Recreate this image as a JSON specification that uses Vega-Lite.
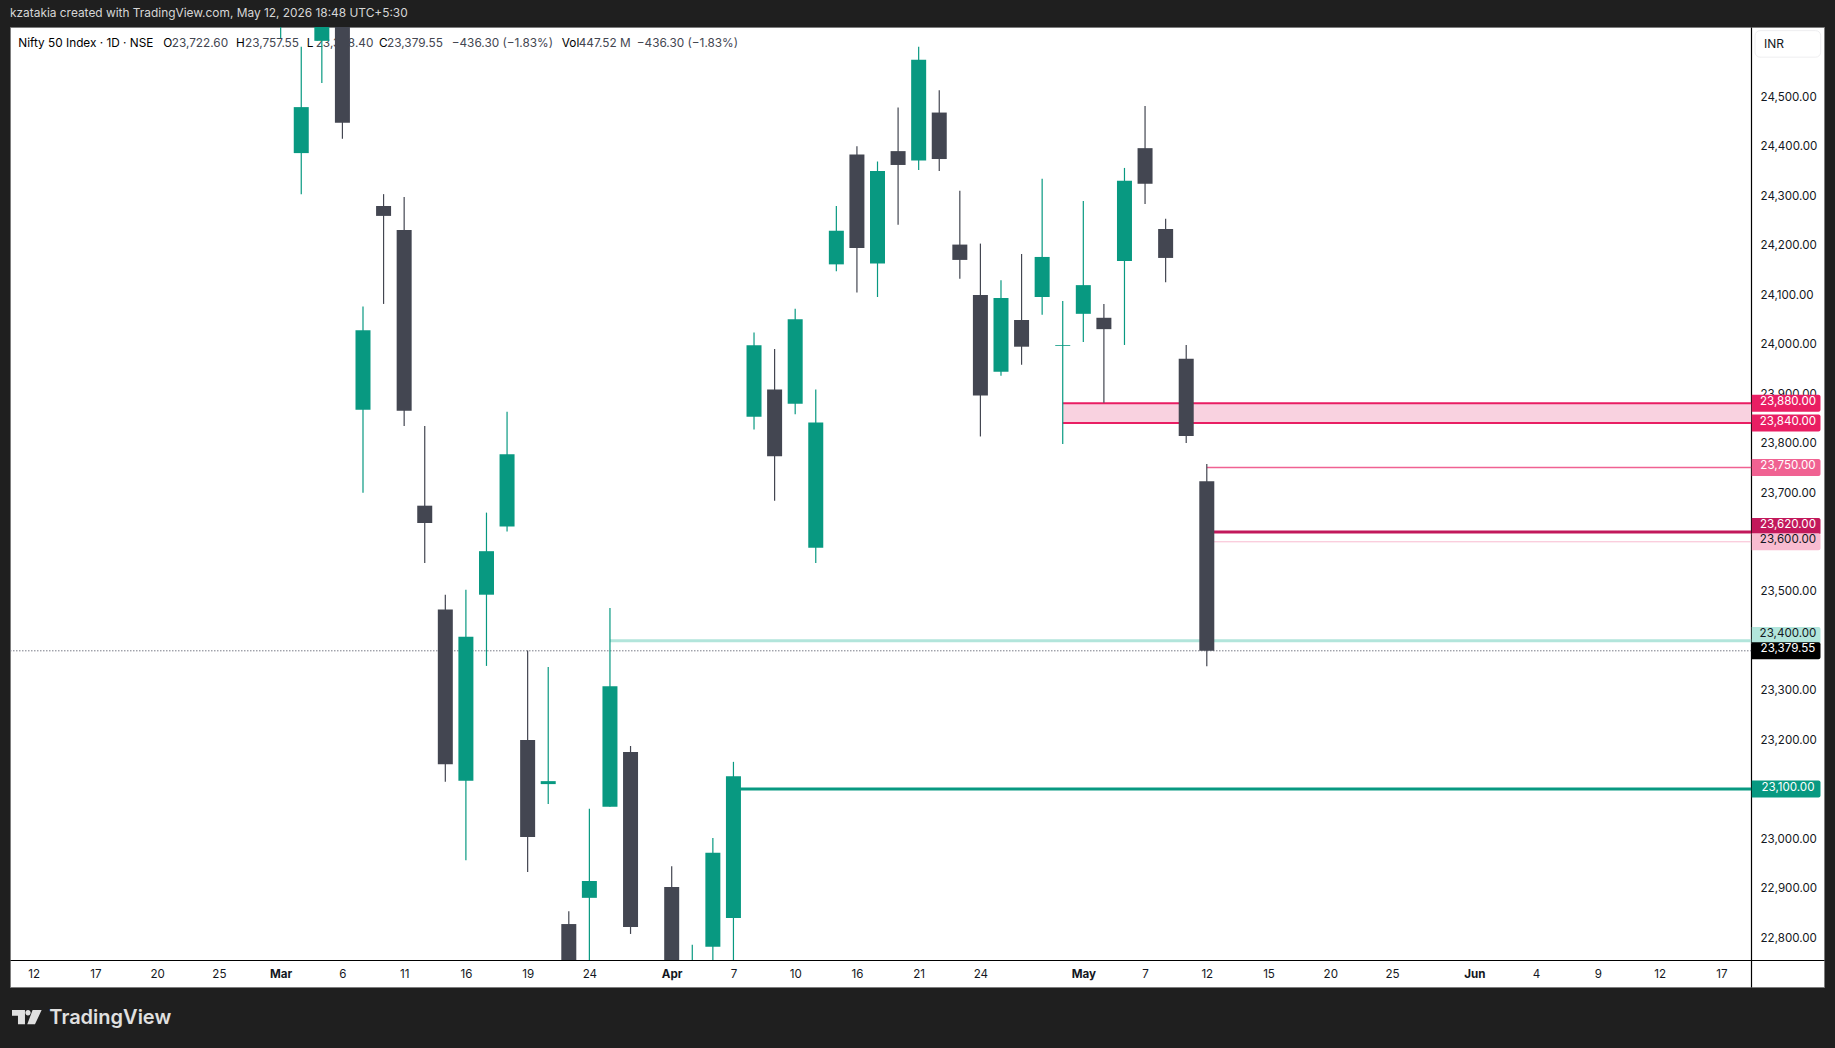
{"$schema": "https://vega.github.io/schema/vega-lite/v6.json",
  "autosize": {"type": "none"},
  "padding": {"left": 10, "top": 27, "right": 11, "bottom": 61},
  "width": 1814,
  "height": 960,
  "background": "#1f1f1f",
  "title": {
    "text": "kzatakia created with TradingView.com, May 12, 2026 18:48 UTC+5:30",
    "anchor": "start",
    "frame": "group",
    "offset": 7,
    "color": "#d6d6d6",
    "font": "Inter",
    "fontSize": 11.9,
    "fontWeight": "normal"},
  "config": {
    "font": "Inter",
    "view": {"fill": "#ffffff", "stroke": "#7d7d7d"}},
  "datasets": {
    "candles": [
      {"bar": 12, "open": 24641, "high": 24641, "low": 24619, "close": 24641},
      {"bar": 13, "open": 24386, "high": 24601, "low": 24303, "close": 24479},
      {"bar": 14, "open": 24613, "high": 24641, "low": 24528, "close": 24641},
      {"bar": 15, "open": 24641, "high": 24641, "low": 24415, "close": 24447.5},
      {"bar": 16, "open": 23867, "high": 24076, "low": 23699, "close": 24028},
      {"bar": 17, "open": 24279, "high": 24303, "low": 24081, "close": 24259},
      {"bar": 18, "open": 24230.5, "high": 24297, "low": 23834, "close": 23865},
      {"bar": 19, "open": 23673, "high": 23834, "low": 23557, "close": 23638},
      {"bar": 20, "open": 23463, "high": 23493, "low": 23115, "close": 23150},
      {"bar": 21, "open": 23117, "high": 23503, "low": 22956, "close": 23408},
      {"bar": 22, "open": 23493, "high": 23659, "low": 23349, "close": 23581},
      {"bar": 23, "open": 23631, "high": 23863, "low": 23621, "close": 23777},
      {"bar": 24, "open": 23199, "high": 23380, "low": 22932, "close": 23003},
      {"bar": 25, "open": 23110, "high": 23347, "low": 23070, "close": 23116},
      {"bar": 26, "open": 22827, "high": 22853, "low": 22754.3, "close": 22754.3},
      {"bar": 27, "open": 22880, "high": 23060, "low": 22754.3, "close": 22914},
      {"bar": 28, "open": 23064, "high": 23466, "low": 23064, "close": 23308},
      {"bar": 29, "open": 23175, "high": 23187, "low": 22807, "close": 22821},
      {"bar": 31, "open": 22902, "high": 22944, "low": 22754.3, "close": 22754.3},
      {"bar": 32, "open": 22754.3, "high": 22785, "low": 22754.3, "close": 22754.3},
      {"bar": 33, "open": 22781, "high": 23001, "low": 22754.3, "close": 22971},
      {"bar": 34, "open": 22839, "high": 23155, "low": 22754.3, "close": 23126},
      {"bar": 35, "open": 23853, "high": 24023, "low": 23827, "close": 23997.5},
      {"bar": 36, "open": 23908, "high": 23990, "low": 23683, "close": 23773},
      {"bar": 37, "open": 23879, "high": 24071, "low": 23858, "close": 24050},
      {"bar": 38, "open": 23588, "high": 23908, "low": 23557, "close": 23841},
      {"bar": 39, "open": 24161, "high": 24279, "low": 24147, "close": 24229},
      {"bar": 40, "open": 24383, "high": 24400, "low": 24104, "close": 24194},
      {"bar": 41, "open": 24163, "high": 24369, "low": 24095, "close": 24350},
      {"bar": 42, "open": 24390, "high": 24478, "low": 24241, "close": 24362},
      {"bar": 43, "open": 24371, "high": 24601, "low": 24352, "close": 24575},
      {"bar": 44, "open": 24468, "high": 24513, "low": 24350, "close": 24374},
      {"bar": 45, "open": 24201, "high": 24310, "low": 24132, "close": 24170},
      {"bar": 46, "open": 24099, "high": 24203, "low": 23813, "close": 23896},
      {"bar": 47, "open": 23944, "high": 24129, "low": 23936, "close": 24093},
      {"bar": 48, "open": 24048.5, "high": 24182, "low": 23958, "close": 23994.5},
      {"bar": 49, "open": 24095, "high": 24334, "low": 24059, "close": 24176},
      {"bar": 50, "open": 23996.2, "high": 24087, "low": 23798, "close": 23997.8},
      {"bar": 51, "open": 24061, "high": 24289, "low": 24004, "close": 24119},
      {"bar": 52, "open": 24053, "high": 24081, "low": 23881, "close": 24030},
      {"bar": 53, "open": 24168, "high": 24356, "low": 23998, "close": 24330},
      {"bar": 54, "open": 24396, "high": 24481, "low": 24283, "close": 24324},
      {"bar": 55, "open": 24232.5, "high": 24253, "low": 24125, "close": 24174},
      {"bar": 56, "open": 23970, "high": 23998, "low": 23800, "close": 23814},
      {"bar": 57, "open": 23722.6, "high": 23757.55, "low": 23348.4, "close": 23379.55}
    ],
    "levels": [
      {"level": "23,880.00", "price": 23880, "from": 50, "thick": "medium"},
      {"level": "23,840.00", "price": 23840, "from": 50, "thick": "medium"},
      {"level": "23,750.00", "price": 23750, "from": 57, "thick": "thin"},
      {"level": "23,620.00", "price": 23620, "from": 57, "thick": "heavy"},
      {"level": "23,600.00", "price": 23600, "from": 57, "thick": "hair"},
      {"level": "23,400.00", "price": 23400, "from": 28, "thick": "heavy"},
      {"level": "23,100.00", "price": 23100, "from": 34, "thick": "heavy"}
    ],
    "tags": [
      {"level": "23,880.00", "at": 23880},
      {"level": "23,840.00", "at": 23840},
      {"level": "23,750.00", "at": 23750},
      {"level": "23,620.00", "at": 23631},
      {"level": "23,600.00", "at": 23600},
      {"level": "23,400.00", "at": 23410.5},
      {"level": "23,379.55", "at": 23379.55},
      {"level": "23,100.00", "at": 23100}
    ],
    "legendline": [
      {"text": "Nifty 50 Index · 1D · NSE", "at": -0.748, "kind": "name"},
      {"text": "O", "at": 6.297, "kind": "name"},
      {"text": "23,722.60", "at": 6.706, "kind": "value"},
      {"text": "H", "at": 9.83, "kind": "name"},
      {"text": "23,757.55", "at": 10.267, "kind": "value"},
      {"text": "L", "at": 13.265, "kind": "name"},
      {"text": "23,348.40", "at": 13.7, "kind": "value"},
      {"text": "C", "at": 16.78, "kind": "name"},
      {"text": "23,379.55", "at": 17.17, "kind": "value"},
      {"text": "−436.30 (−1.83%)", "at": 20.31, "kind": "value"},
      {"text": "Vol", "at": 25.66, "kind": "name"},
      {"text": "447.52 M", "at": 26.48, "kind": "value"},
      {"text": "−436.30 (−1.83%)", "at": 29.3, "kind": "value"}
    ]
  },
  "layer": [
    {"data": {"name": "legendline"},
     "mark": {"type": "text", "align": "left", "baseline": "middle", "fontSize": 11.8},
     "encoding": {
       "x": {"field": "at", "type": "quantitative", "title": null,
         "scale": {"domain": [-1.152, 86.99], "nice": false, "zero": false, "padding": 0},
         "axis": {
           "orient": "bottom",
           "offset": -27,
           "title": null,
           "grid": false,
           "ticks": false,
           "domainColor": "#000000",
           "domainWidth": 1.2,
           "values": [0, 3, 6, 9, 12, 15, 18, 21, 24, 27, 31, 34, 37, 40, 43, 46, 51, 54, 57, 60, 63, 66, 70, 73, 76, 79, 82],
           "labelExpr": "{'0':'12','3':'17','6':'20','9':'25','12':'Mar','15':'6','18':'11','21':'16','24':'19','27':'24','31':'Apr','34':'7','37':'10','40':'16','43':'21','46':'24','51':'May','54':'7','57':'12','60':'15','63':'20','66':'25','70':'Jun','73':'4','76':'9','79':'12','82':'17'}[datum.value]",
           "labelFontWeight": {"condition": {"test": "datum.value==12||datum.value==31||datum.value==51||datum.value==70", "value": "bold"}, "value": "normal"},
           "labelColor": "#131722",
           "labelFontSize": 11.6,
           "labelPadding": 8,
           "labelOverlap": false,
           "labelBound": false,
           "labelFlush": false}},
       "y": {"datum": 24609.3, "type": "quantitative", "title": null,
         "scale": {"domain": [22699.7, 24641], "nice": false, "zero": false, "padding": 0},
         "axis": {
           "orient": "right",
           "offset": -73,
           "title": null,
           "grid": false,
           "ticks": false,
           "domainColor": "#000000",
           "domainWidth": 1.2,
           "values": [22800, 22900, 23000, 23200, 23300, 23500, 23700, 23800, 23900, 24000, 24100, 24200, 24300, 24400, 24500],
           "format": ",.2f",
           "labelColor": "#131722",
           "labelFontSize": 11.6,
           "labelPadding": 9,
           "labelOffset": 0.7,
           "labelOverlap": false,
           "labelBound": false,
           "labelFlush": false}},
       "text": {"field": "text"},
       "color": {"condition": {"test": "datum.kind == 'name'", "value": "#000000"}, "value": "#434651"}
     }},
    {"data": {"values": [{"top": 23880, "bottom": 23840, "from": 50}]},
     "mark": {"type": "rect", "color": "#f9d2e0"},
     "encoding": {
       "x": {"field": "from", "type": "quantitative", "title": null},
       "x2": {"datum": 83.45},
       "y": {"field": "top", "type": "quantitative", "title": null},
       "y2": {"field": "bottom"}
     }},
    {"data": {"name": "levels"},
     "transform": [{"filter": "datum.thick == 'hair'"}],
     "mark": {"type": "rule", "strokeWidth": 1},
     "encoding": {
       "x": {"field": "from", "type": "quantitative", "title": null},
       "x2": {"datum": 83.45},
       "y": {"field": "price", "type": "quantitative", "title": null},
       "color": {"field": "level", "type": "nominal", "legend": null}
     }},
    {"data": {"name": "levels"},
     "transform": [{"filter": "datum.thick == 'thin'"}],
     "mark": {"type": "rule", "strokeWidth": 1.5},
     "encoding": {
       "x": {"field": "from", "type": "quantitative", "title": null},
       "x2": {"datum": 83.45},
       "y": {"field": "price", "type": "quantitative", "title": null},
       "color": {"field": "level", "type": "nominal", "legend": null}
     }},
    {"data": {"name": "levels"},
     "transform": [{"filter": "datum.thick == 'medium'"}],
     "mark": {"type": "rule", "strokeWidth": 2},
     "encoding": {
       "x": {"field": "from", "type": "quantitative", "title": null},
       "x2": {"datum": 83.45},
       "y": {"field": "price", "type": "quantitative", "title": null},
       "color": {"field": "level", "type": "nominal", "legend": null}
     }},
    {"data": {"name": "levels"},
     "transform": [{"filter": "datum.thick == 'heavy'"}],
     "mark": {"type": "rule", "strokeWidth": 3},
     "encoding": {
       "x": {"field": "from", "type": "quantitative", "title": null},
       "x2": {"datum": 83.45},
       "y": {"field": "price", "type": "quantitative", "title": null},
       "color": {"field": "level", "type": "nominal", "legend": null}
     }},
    {"data": {"values": [{"price": 23379.55, "from": -1.152}]},
     "mark": {"type": "rule", "color": "#787b86", "strokeWidth": 1, "strokeDash": [1.5, 1.5]},
     "encoding": {
       "x": {"field": "from", "type": "quantitative", "title": null},
       "x2": {"datum": 83.45},
       "y": {"field": "price", "type": "quantitative", "title": null}
     }},
    {"data": {"name": "candles"},
     "mark": {"type": "rule", "strokeWidth": 1.2},
     "encoding": {
       "x": {"field": "bar", "type": "quantitative", "title": null},
       "y": {"field": "high", "type": "quantitative", "title": null},
       "y2": {"field": "low"},
       "color": {"condition": {"test": "datum.close >= datum.open", "value": "#089981"}, "value": "#434651"}
     }},
    {"data": {"name": "candles"},
     "mark": {"type": "bar", "size": 15},
     "encoding": {
       "x": {"field": "bar", "type": "quantitative", "title": null},
       "y": {"field": "open", "type": "quantitative", "title": null},
       "y2": {"field": "close"},
       "color": {"condition": {"test": "datum.close >= datum.open", "value": "#089981"}, "value": "#434651"}
     }},
    {"data": {"name": "tags"},
     "mark": {"type": "bar", "orient": "horizontal", "size": 17, "cornerRadiusTopRight": 2, "cornerRadiusBottomRight": 2},
     "encoding": {
       "x": {"datum": 83.48, "type": "quantitative", "title": null},
       "x2": {"datum": 86.82},
       "y": {"field": "at", "type": "quantitative", "title": null},
       "color": {"field": "level", "type": "nominal", "legend": null,
         "scale": {
           "domain": ["23,880.00", "23,840.00", "23,750.00", "23,620.00", "23,600.00", "23,400.00", "23,379.55", "23,100.00"],
           "range": ["#e91e63", "#e91e63", "#f06292", "#c2185b", "#f8bbd0", "#b2e5db", "#000000", "#089981"]}}
     }},
    {"data": {"name": "tags"},
     "mark": {"type": "text", "align": "center", "baseline": "middle", "dy": -1.5, "fontSize": 11.6},
     "encoding": {
       "x": {"datum": 85.24, "type": "quantitative", "title": null},
       "y": {"field": "at", "type": "quantitative", "title": null},
       "text": {"field": "level"},
       "color": {"condition": {"test": "datum.level == '23,600.00' || datum.level == '23,400.00'", "value": "#131722"}, "value": "#ffffff"}
     }},
    {"data": {"values": [{"unit": "INR"}]},
     "mark": {"type": "rect", "fill": "#ffffff", "stroke": "#eeeef0", "strokeWidth": 1, "cornerRadius": 5},
     "encoding": {
       "x": {"datum": 83.64, "type": "quantitative", "title": null},
       "x2": {"datum": 86.83},
       "y": {"datum": 24633.6, "type": "quantitative", "title": null},
       "y2": {"datum": 24580}
     }},
    {"data": {"values": [{"unit": "INR"}]},
     "mark": {"type": "text", "align": "left", "baseline": "middle", "fontSize": 12, "color": "#131722"},
     "encoding": {
       "x": {"datum": 84.08, "type": "quantitative", "title": null},
       "y": {"datum": 24606.7, "type": "quantitative", "title": null},
       "text": {"field": "unit"}
     }},
    {"data": {"values": [{"brand": "TradingView"}]},
     "mark": {"type": "text", "align": "left", "baseline": "middle", "fontSize": 20, "fontWeight": 600, "color": "#e0e0e0"},
     "encoding": {
       "x": {"datum": 0.758, "type": "quantitative", "title": null},
       "y": {"datum": 22637, "type": "quantitative", "title": null},
       "text": {"field": "brand"}
     }},
    {"data": {"values": [{"brand": "logo"}]},
     "mark": {"type": "point", "filled": true, "opacity": 1, "size": 879, "strokeWidth": 0, "color": "#e0e0e0",
       "shape": "M-1 -.483L-.124 -.483L-.124 .483L-.596 .483L-.596 -.1L-1 -.1ZM-.1 -.303a.18 .18 0 1 0 .36 0a.18 .18 0 1 0 -.36 0ZM.39 -.483L1 -.483L.55 .483L.03 .483Z"},
     "encoding": {
       "x": {"datum": -0.335, "type": "quantitative", "title": null},
       "y": {"datum": 22638.6, "type": "quantitative", "title": null}
     }}
  ]
}
